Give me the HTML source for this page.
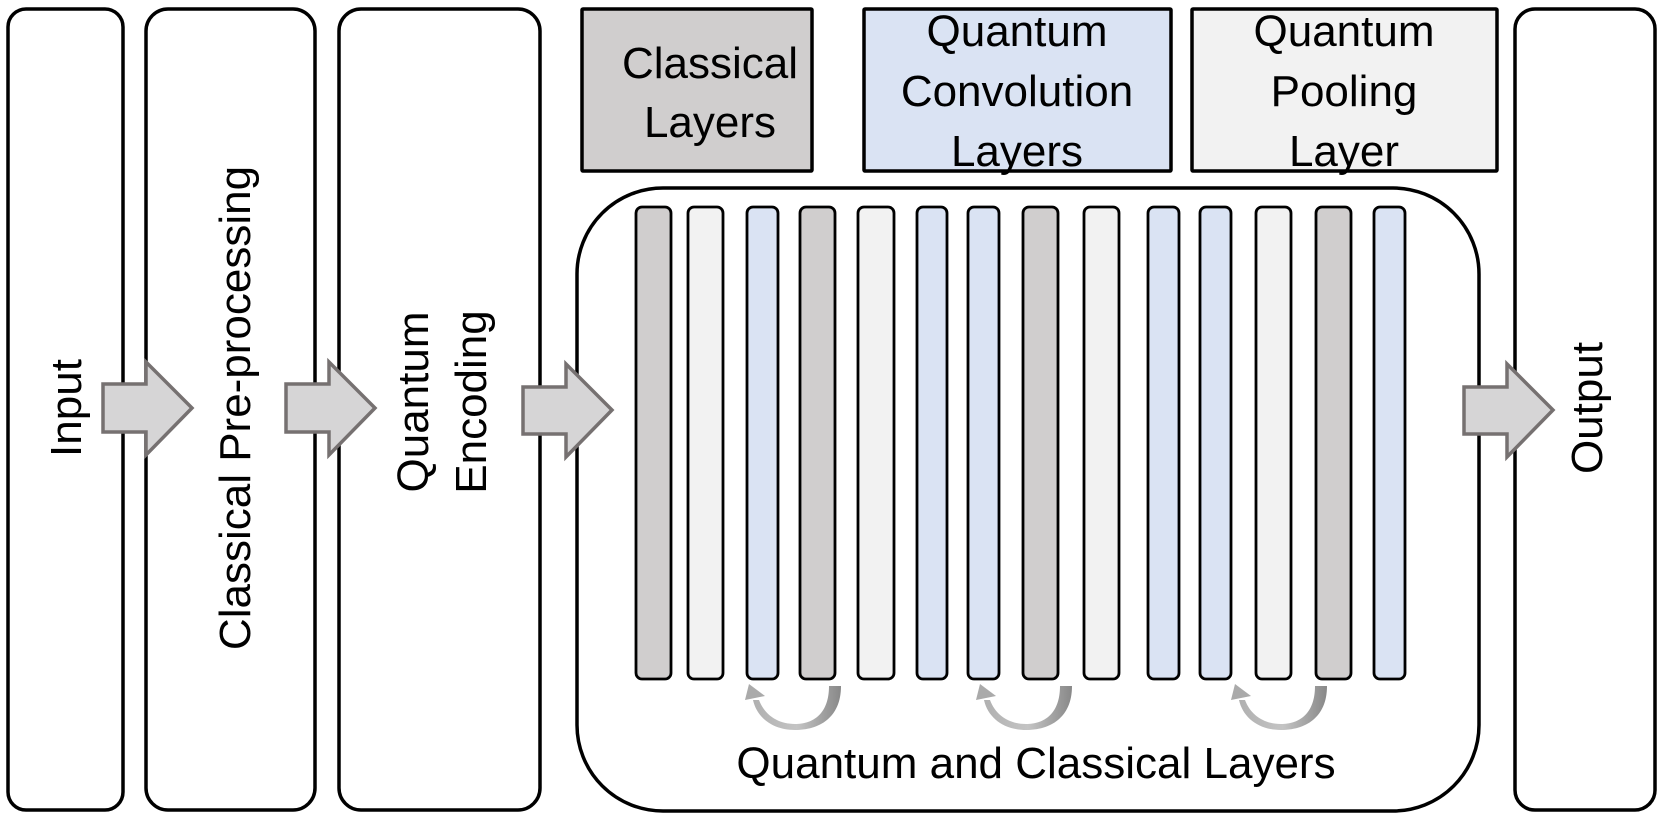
<!DOCTYPE html>
<html><head><meta charset="utf-8"><style>
html,body{margin:0;padding:0;background:#fff;}
svg{display:block;}
text{font-family:"Liberation Sans",sans-serif;fill:#000;}
</style></head><body>
<svg width="1659" height="816" viewBox="0 0 1659 816" xmlns="http://www.w3.org/2000/svg">
<defs>
<linearGradient id="ag" x1="0" y1="0" x2="1" y2="0">
<stop offset="0" stop-color="#b0b0b0"/><stop offset="0.5" stop-color="#c4c4c4"/><stop offset="1" stop-color="#888"/>
</linearGradient>
<g id="carr">
<path d="M46,-2 C46,30 24,42 0,42 C-22,42 -38,30 -42,12 L-36,12 C-30,28 -16,36 0,36 C18,36 34,26 34,-2 Z" fill="url(#ag)"/>
<path d="M-50,12 L-46,-4 L-30,8 Z" fill="#aaa"/>
</g>
</defs>
<g stroke="#000" stroke-width="3.5" fill="#fff">
<rect x="8" y="9" width="115" height="801" rx="18"/>
<rect x="146" y="9" width="169" height="801" rx="22"/>
<rect x="339" y="9" width="201" height="801" rx="22"/>
<rect x="1515" y="9" width="140" height="801" rx="20"/>
<rect x="577" y="188" width="902" height="623" rx="86"/>
<rect x="582" y="9" width="230" height="162" fill="#d0cece" rx="1"/>
<rect x="864" y="9" width="307" height="162" fill="#dae3f3" rx="1"/>
<rect x="1192" y="9" width="305" height="162" fill="#f2f2f2" rx="1"/>
</g>
<g stroke="#000" stroke-width="2.8">
<rect x="636" y="207" width="35" height="472" rx="6" fill="#d0cece"/>
<rect x="688" y="207" width="35" height="472" rx="6" fill="#f2f2f2"/>
<rect x="747" y="207" width="31" height="472" rx="6" fill="#dae3f3"/>
<rect x="800" y="207" width="35" height="472" rx="6" fill="#d0cece"/>
<rect x="858" y="207" width="36" height="472" rx="6" fill="#f2f2f2"/>
<rect x="917" y="207" width="30" height="472" rx="6" fill="#dae3f3"/>
<rect x="968" y="207" width="31" height="472" rx="6" fill="#dae3f3"/>
<rect x="1023" y="207" width="35" height="472" rx="6" fill="#d0cece"/>
<rect x="1084" y="207" width="35" height="472" rx="6" fill="#f2f2f2"/>
<rect x="1148" y="207" width="31" height="472" rx="6" fill="#dae3f3"/>
<rect x="1200" y="207" width="31" height="472" rx="6" fill="#dae3f3"/>
<rect x="1256" y="207" width="35" height="472" rx="6" fill="#f2f2f2"/>
<rect x="1316" y="207" width="35" height="472" rx="6" fill="#d0cece"/>
<rect x="1374" y="207" width="31" height="472" rx="6" fill="#dae3f3"/>
</g>
<use href="#carr" x="795" y="688"/>
<use href="#carr" x="1026" y="688"/>
<use href="#carr" x="1281" y="688"/>
<g fill="#d6d5d6" stroke="#767171" stroke-width="3.5" stroke-linejoin="miter">
<path d="M103,384 L146,384 L146,362 L192,408 L146,455 L146,432 L103,432 Z"/>
<path d="M286,384 L329,384 L329,362 L375,408 L329,455 L329,432 L286,432 Z"/>
<path d="M523,387 L566,387 L566,364 L612,410 L566,457 L566,434 L523,434 Z"/>
<path d="M1464,387 L1507,387 L1507,364 L1553,410 L1507,457 L1507,434 L1464,434 Z"/>
</g>
<g font-size="44" text-anchor="middle">
<text x="710" y="78">Classical</text>
<text x="710" y="137">Layers</text>
<text x="1017" y="46">Quantum</text>
<text x="1017" y="106">Convolution</text>
<text x="1017" y="166">Layers</text>
<text x="1344" y="46">Quantum</text>
<text x="1344" y="106">Pooling</text>
<text x="1344" y="166">Layer</text>
<text x="1036" y="778">Quantum and Classical Layers</text>
<text transform="translate(81,408) rotate(-90)">Input</text>
<text transform="translate(250,408) rotate(-90)">Classical Pre-processing</text>
<text transform="translate(428,402) rotate(-90)">Quantum</text>
<text transform="translate(486,402) rotate(-90)">Encoding</text>
<text transform="translate(1602,408) rotate(-90)">Output</text>
</g>
</svg>
</body></html>
